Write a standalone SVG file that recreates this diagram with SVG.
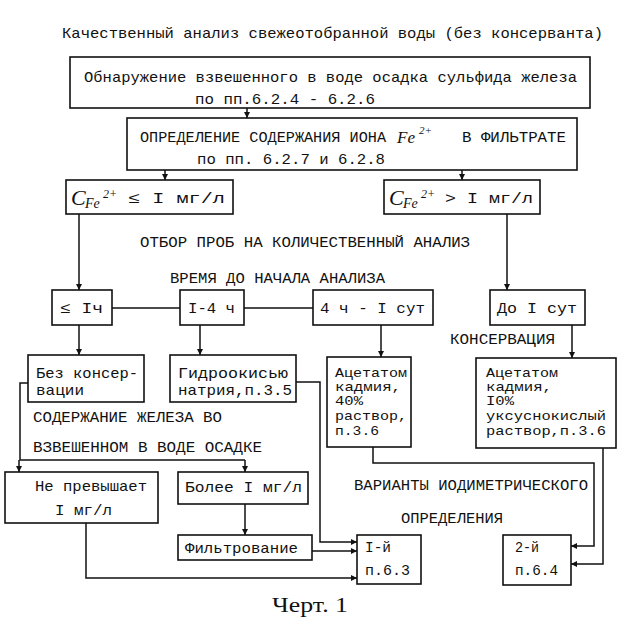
<svg xmlns="http://www.w3.org/2000/svg" width="621" height="619" viewBox="0 0 621 619">
<style>
.t{font-family:"Liberation Mono","DejaVu Sans Mono",monospace;font-size:15px;fill:#111}
.s{font-family:"Liberation Mono","DejaVu Sans Mono",monospace;font-size:13px;fill:#111}
.i{font-family:"Liberation Serif",serif;font-style:italic;fill:#111}
.b{fill:#fff;stroke:#111;stroke-width:1.6}
.c{fill:none;stroke:#111;stroke-width:1.5}
</style>
<defs>
<marker id="a" viewBox="0 0 10 10" refX="10" refY="5" markerWidth="8" markerHeight="6" markerUnits="userSpaceOnUse" orient="auto">
<path d="M0,0 L10,5 L0,10 z" fill="#111"/>
</marker>
</defs>
<rect width="621" height="619" fill="#fff"/>
<text class="t" x="62" y="38" textLength="541" lengthAdjust="spacingAndGlyphs">Качественный анализ свежеотобранной воды (без консерванта)</text>
<g id="connectors">
<path class="c" d="M247,108 V118" marker-end="url(#a)"/>
<path class="c" d="M165,170 V180" marker-end="url(#a)"/>
<path class="c" d="M462,170 V180" marker-end="url(#a)"/>
<path class="c" d="M79,214 V290" marker-end="url(#a)"/>
<path class="c" d="M507,214 V290" marker-end="url(#a)"/>
<path class="c" d="M112,308 H180 M244,308 H313"/>
<path class="c" d="M79,325 V355" marker-end="url(#a)"/>
<path class="c" d="M200,325 V355" marker-end="url(#a)"/>
<path class="c" d="M381,325 V357" marker-end="url(#a)"/>
<path class="c" d="M572,325 V358" marker-end="url(#a)"/>
<path class="c" d="M28,383 H20 V460 H245"/>
<path class="c" d="M19,460 V472" marker-end="url(#a)"/>
<path class="c" d="M245,460 V472" marker-end="url(#a)"/>
<path class="c" d="M245,504 V535" marker-end="url(#a)"/>
<path class="c" d="M312,551 H357" marker-end="url(#a)"/>
<path class="c" d="M296,382 H320 V542 H357" marker-end="url(#a)"/>
<path class="c" d="M86,523 V578 H357" marker-end="url(#a)"/>
<path class="c" d="M373,447 V463 H594 V546 H571" marker-end="url(#a)"/>
<path class="c" d="M603,448 V564 H571" marker-end="url(#a)"/>
</g>
<g id="n1">
<rect class="b" x="70" y="57" width="520" height="51"/>
<text class="t" x="84" y="82" textLength="493" lengthAdjust="spacingAndGlyphs">Обнаружение взвешенного в воде осадка сульфида железа</text>
<text class="t" x="195" y="104" textLength="180" lengthAdjust="spacingAndGlyphs">по пп.6.2.4 - 6.2.6</text>
</g>
<g id="n2">
<rect class="b" x="127" y="118" width="450" height="52"/>
<text class="t" x="140" y="142" textLength="246" lengthAdjust="spacingAndGlyphs">ОПРЕДЕЛЕНИЕ СОДЕРЖАНИЯ ИОНА</text>
<text class="i" x="397" y="143" font-size="17">Fe</text>
<text class="i" x="419" y="134" font-size="11">2+</text>
<text class="t" x="462" y="142" textLength="104" lengthAdjust="spacingAndGlyphs">В ФИЛЬТРАТЕ</text>
<text class="t" x="197" y="164" textLength="188" lengthAdjust="spacingAndGlyphs">по пп. 6.2.7 и 6.2.8</text>
</g>
<g id="n3">
<rect class="b" x="66" y="180" width="167" height="34"/>
<text class="i" x="71" y="205" font-size="22">C</text>
<text class="i" x="85" y="208" font-size="14">Fe</text>
<text class="i" x="103" y="198" font-size="12">2+</text>
<text class="t" x="128" y="203" textLength="97" lengthAdjust="spacingAndGlyphs">≤ I мг/л</text>
</g>
<g id="n4">
<rect class="b" x="384" y="180" width="156" height="34"/>
<text class="i" x="389" y="205" font-size="22">C</text>
<text class="i" x="403" y="208" font-size="14">Fe</text>
<text class="i" x="421" y="198" font-size="12">2+</text>
<text class="t" x="445" y="203" textLength="88" lengthAdjust="spacingAndGlyphs">&gt; I мг/л</text>
</g>
<text class="t" x="140" y="247" textLength="330" lengthAdjust="spacingAndGlyphs">ОТБОР ПРОБ НА КОЛИЧЕСТВЕННЫЙ АНАЛИЗ</text>
<text class="t" x="170" y="283" textLength="215" lengthAdjust="spacingAndGlyphs">ВРЕМЯ ДО НАЧАЛА АНАЛИЗА</text>
<g id="n5">
<rect class="b" x="52" y="290" width="60" height="35"/>
<text class="t" x="60" y="313" textLength="43" lengthAdjust="spacingAndGlyphs">≤ Iч</text>
</g>
<g id="n6">
<rect class="b" x="180" y="290" width="64" height="35"/>
<text class="t" x="188" y="313" textLength="47" lengthAdjust="spacingAndGlyphs">I-4 ч</text>
</g>
<g id="n7">
<rect class="b" x="313" y="290" width="120" height="35"/>
<text class="t" x="320" y="313" textLength="105" lengthAdjust="spacingAndGlyphs">4 ч - I сут</text>
</g>
<g id="n8">
<rect class="b" x="490" y="290" width="95" height="35"/>
<text class="t" x="497" y="313" textLength="80" lengthAdjust="spacingAndGlyphs">До I сут</text>
</g>
<text class="t" x="450" y="344" textLength="105" lengthAdjust="spacingAndGlyphs">КОНСЕРВАЦИЯ</text>
<g id="n9">
<rect class="b" x="28" y="355" width="116" height="47"/>
<text class="t" x="36" y="378" textLength="102" lengthAdjust="spacingAndGlyphs">Без консер-</text>
<text class="t" x="36" y="395" textLength="48" lengthAdjust="spacingAndGlyphs">вации</text>
</g>
<g id="n10">
<rect class="b" x="170" y="355" width="126" height="47"/>
<text class="t" x="178" y="378" textLength="110" lengthAdjust="spacingAndGlyphs">Гидроокисью</text>
<text class="t" x="178" y="395" textLength="114" lengthAdjust="spacingAndGlyphs">натрия,п.3.5</text>
</g>
<g id="n11">
<rect class="b" x="327" y="357" width="84" height="90"/>
<text class="s" x="335" y="377" textLength="72" lengthAdjust="spacingAndGlyphs">Ацетатом</text>
<text class="s" x="335" y="391" textLength="66" lengthAdjust="spacingAndGlyphs">кадмия,</text>
<text class="s" x="335" y="405" textLength="28" lengthAdjust="spacingAndGlyphs">40%</text>
<text class="s" x="335" y="420" textLength="72" lengthAdjust="spacingAndGlyphs">раствор,</text>
<text class="s" x="335" y="435" textLength="44" lengthAdjust="spacingAndGlyphs">п.3.6</text>
</g>
<g id="n12">
<rect class="b" x="476" y="358" width="140" height="90"/>
<text class="s" x="486" y="377" textLength="72" lengthAdjust="spacingAndGlyphs">Ацетатом</text>
<text class="s" x="486" y="391" textLength="66" lengthAdjust="spacingAndGlyphs">кадмия,</text>
<text class="s" x="486" y="405" textLength="28" lengthAdjust="spacingAndGlyphs">I0%</text>
<text class="s" x="486" y="420" textLength="120" lengthAdjust="spacingAndGlyphs">уксуснокислый</text>
<text class="s" x="486" y="435" textLength="120" lengthAdjust="spacingAndGlyphs">раствор,п.3.6</text>
</g>
<text class="t" x="33" y="422" textLength="189" lengthAdjust="spacingAndGlyphs">СОДЕРЖАНИЕ ЖЕЛЕЗА ВО</text>
<text class="t" x="33" y="452" textLength="229" lengthAdjust="spacingAndGlyphs">ВЗВЕШЕННОМ В ВОДЕ ОСАДКЕ</text>
<g id="n13">
<rect class="b" x="5" y="472" width="153" height="51"/>
<text class="t" x="35" y="491" textLength="112" lengthAdjust="spacingAndGlyphs">Не превышает</text>
<text class="t" x="55" y="515" textLength="57" lengthAdjust="spacingAndGlyphs">I мг/л</text>
</g>
<g id="n14">
<rect class="b" x="178" y="472" width="130" height="32"/>
<text class="t" x="185" y="492" textLength="117" lengthAdjust="spacingAndGlyphs">Более I мг/л</text>
</g>
<g id="n15">
<rect class="b" x="178" y="535" width="134" height="25"/>
<text class="t" x="185" y="553" textLength="113" lengthAdjust="spacingAndGlyphs">Фильтрование</text>
</g>
<g id="n16">
<rect class="b" x="357" y="535" width="64" height="49"/>
<text class="t" x="365" y="552" textLength="26" lengthAdjust="spacingAndGlyphs">I-й</text>
<text class="t" x="365" y="575" textLength="45" lengthAdjust="spacingAndGlyphs">п.6.3</text>
</g>
<g id="n17">
<rect class="b" x="503" y="535" width="68" height="50"/>
<text class="t" x="515" y="552" textLength="24" lengthAdjust="spacingAndGlyphs">2-й</text>
<text class="t" x="515" y="575" textLength="43" lengthAdjust="spacingAndGlyphs">п.6.4</text>
</g>
<text class="t" x="354" y="490" textLength="234" lengthAdjust="spacingAndGlyphs">ВАРИАНТЫ ИОДИМЕТРИЧЕСКОГО</text>
<text class="t" x="401" y="523" textLength="102" lengthAdjust="spacingAndGlyphs">ОПРЕДЕЛЕНИЯ</text>
<text x="272" y="612" font-family="Liberation Serif, serif" font-size="20" fill="#111" textLength="76" lengthAdjust="spacingAndGlyphs">Черт. 1</text>
</svg>
